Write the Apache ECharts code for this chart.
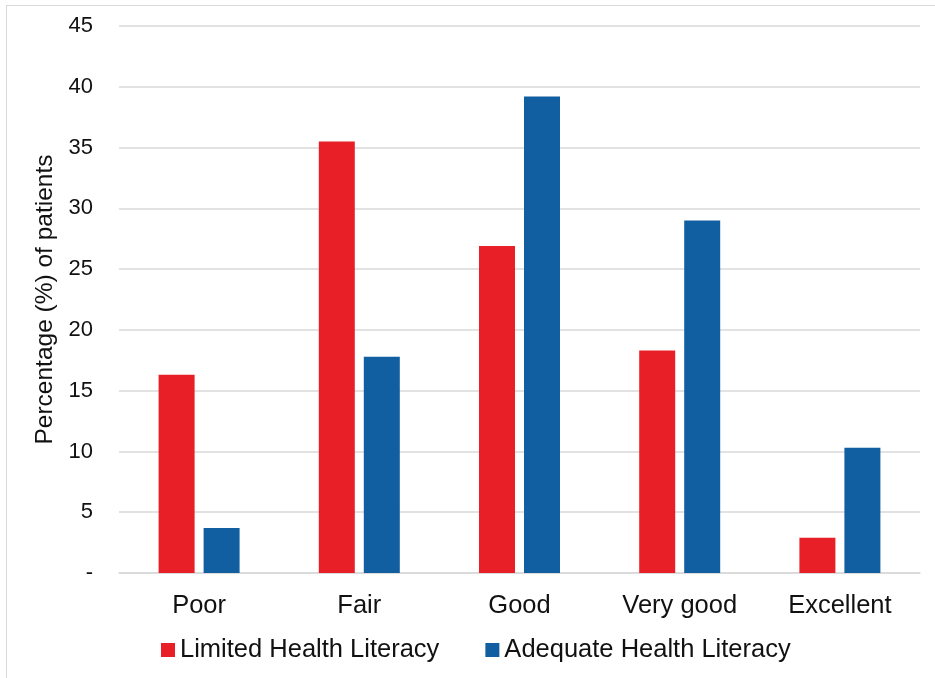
<!DOCTYPE html>
<html lang="en">
<head>
    <meta charset="utf-8">
    <script src="https://cdn.jsdelivr.net/npm/echarts@6/dist/echarts.min.js"></script>
    <style>
        html, body { margin: 0; padding: 0; background: #fff; }
        #frame { position: absolute; left: 6px; top: 5px; width: 940px; height: 680px; border: 1px solid #d9d9d9; box-sizing: border-box; }
        #chart { position: absolute; left: 0; top: 0; width: 935px; height: 678px; }
    </style>
</head>
<body>
<div id="frame"></div>
<div id="chart"></div>
<script>
    // categories and values
    var categories = ['Poor', 'Fair', 'Good', 'Very good', 'Excellent'];
    var limitedValues = [16.3, 35.5, 26.9, 18.3, 2.9];
    var adequateValues = [3.7, 17.8, 39.2, 29.0, 10.3];
    var seriesNames = ['Limited Health Literacy', 'Adequate Health Literacy'];

    var font = 'Liberation Sans, Arial, Helvetica, sans-serif';
    var chart = echarts.init(document.getElementById('chart'));
    var option = {
        animation: false,
        color: ['#e81f27', '#115ea0'],
        grid: { left: 119, right: 15, top: 26, bottom: 105 },
        legend: {
            bottom: 10,
            left: 156,
            itemWidth: 14,
            itemHeight: 14,
            itemGap: 46,
            icon: 'rect',
            textStyle: { fontFamily: font, fontSize: 25.5, color: '#111' },
            data: seriesNames
        },
        xAxis: {
            type: 'category',
            data: categories,
            axisLine: { lineStyle: { color: '#d9d9d9', width: 1.5 } },
            axisTick: { show: false },
            axisLabel: { margin: 20, fontFamily: font, fontSize: 25.5, color: '#111' }
        },
        yAxis: {
            type: 'value',
            min: 0,
            max: 45,
            interval: 5,
            name: 'Percentage (%) of patients',
            nameLocation: 'middle',
            nameGap: 57,
            nameTextStyle: { fontFamily: font, fontSize: 24.5, color: '#111' },
            axisLine: { show: false },
            axisTick: { show: false },
            splitLine: { lineStyle: { color: '#d9d9d9', width: 1.5 } },
            axisLabel: {
                margin: 26,
                fontFamily: font,
                fontSize: 22,
                color: '#111',
                formatter: function (v) { return v === 0 ? '-' : v; }
            }
        },
        series: [
            { name: seriesNames[0], type: 'bar', data: limitedValues, barWidth: 36, barGap: '25%' },
            { name: seriesNames[1], type: 'bar', data: adequateValues, barWidth: 36, barGap: '25%' }
        ]
    };
    chart.setOption(option);
</script>
</body>
</html>
